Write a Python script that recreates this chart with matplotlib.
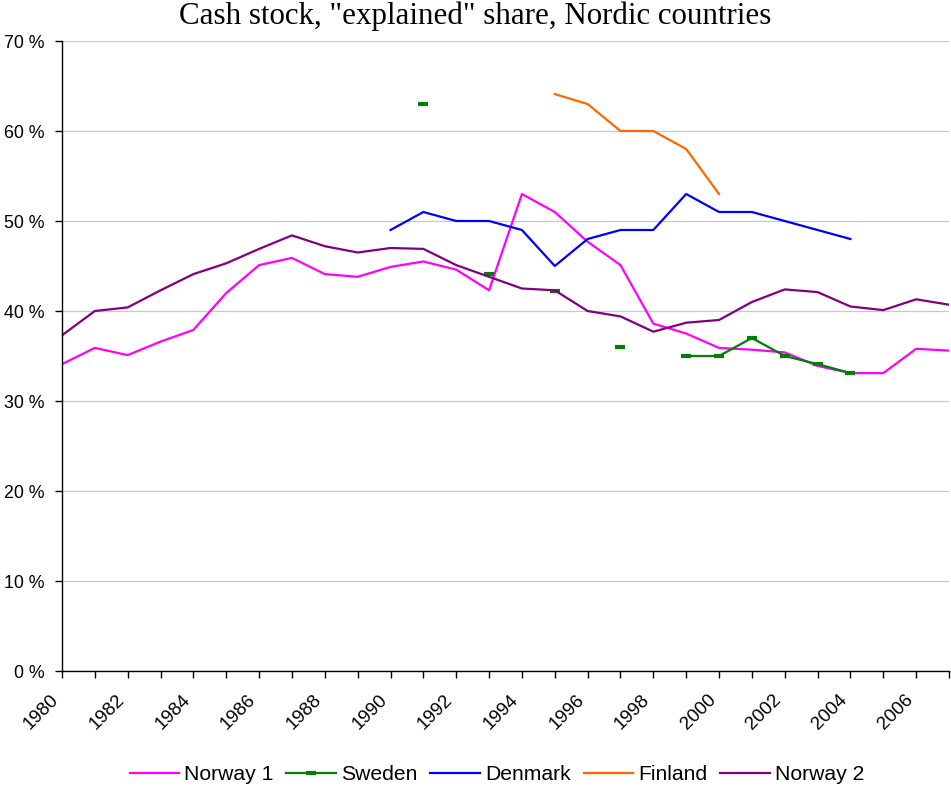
import numpy as np
import matplotlib
matplotlib.use("Agg")
import matplotlib.pyplot as plt
from matplotlib.ticker import FixedLocator, FuncFormatter
import matplotlib.transforms as mtransforms

years = list(range(1980, 2008))
nan = np.nan

norway1 = [34.1, 35.9, 35.1, 36.6, 37.9, 42.0, 45.1, 45.9, 44.1, 43.8,
           44.9, 45.5, 44.6, 42.3, 53.0, 51.0, 47.7, 45.1, 38.6, 37.5,
           35.9, 35.7, 35.4, 33.9, 33.1, 33.1, 35.8, 35.6]
sweden = [nan] * 11 + [63.0, nan, 44.1, nan, 42.2, nan, 36.0, nan,
                       35.0, 35.0, 37.0, 35.0, 34.1, 33.1, nan, nan, nan]
denmark = [nan] * 10 + [49.0, 51.0, 50.0, 50.0, 49.0, 45.0, 48.0, 49.0, 49.0, 53.0,
                        51.0, 51.0, 50.0, 49.0, 48.0, nan, nan, nan]
finland = [nan] * 15 + [64.1, 63.0, 60.0, 60.0, 58.0, 53.0] + [nan] * 7
norway2 = [37.3, 40.0, 40.4, 42.3, 44.1, 45.3, 46.9, 48.4, 47.2, 46.5,
           47.0, 46.9, 45.1, 43.8, 42.5, 42.3, 40.0, 39.4, 37.7, 38.7,
           39.0, 41.0, 42.4, 42.1, 40.5, 40.1, 41.3, 40.7]

yticks = [0, 10, 20, 30, 40, 50, 60, 70]
xlabels = list(range(1980, 2007, 2))

plt.rcParams['font.family'] = ['Liberation Sans', 'DejaVu Sans']

fig = plt.figure(figsize=(9.51, 7.89), dpi=100)
ax = fig.add_axes([62 / 951, 118 / 789, 887 / 951, 630 / 789])

ax.plot(years, norway1, color='#FF00FF', lw=1.6, label='Norway 1')
ax.plot(years, sweden, color='#008000', lw=1.6, marker='_', ms=7, mew=3, label='Sweden')
ax.plot(years, denmark, color='#0000FF', lw=1.6, label='Denmark')
ax.plot(years, finland, color='#FF6600', lw=1.6, label='Finland')
ax.plot(years, norway2, color='#800080', lw=1.6, label='Norway 2')

ax.set_xlim(1980, 2007)
ax.set_ylim(0, 70)
ax.yaxis.set_major_locator(FixedLocator(yticks))
ax.yaxis.set_major_formatter(FuncFormatter(lambda v, p: '%d %%' % v))
ax.grid(axis='y', color='#c8c8c8', lw=0.9)
ax.set_axisbelow(True)

ax.set_xticks(years)
ax.set_xticklabels([str(y) if y in xlabels else '' for y in years],
                   rotation=45, ha='right', va='top')
# excel puts the end of each rotated label a bit left of its tick
offset = mtransforms.ScaledTranslation(-14 / 100, 0, fig.dpi_scale_trans)
for lab in ax.get_xticklabels():
    lab.set_transform(lab.get_transform() + offset)

ax.tick_params(axis='x', direction='out', length=5, width=1, pad=9.5, labelsize=13.5)
ax.tick_params(axis='y', direction='out', length=5, width=1, pad=7.5, labelsize=12.8)

for side in ('top', 'right'):
    ax.spines[side].set_visible(False)
for side in ('left', 'bottom'):
    ax.spines[side].set_color('black')
    ax.spines[side].set_linewidth(1)

fig.text(0.5, 1 - 24 / 789, 'Cash stock, "explained" share, Nordic countries',
         ha='center', va='baseline', fontsize=22.3, family=['Liberation Serif', 'DejaVu Serif'])

fig.legend(loc='center', bbox_to_anchor=(497 / 951, 1 - 775 / 789), ncol=5,
           frameon=False, fontsize=15.2, handlelength=2.35, handletextpad=0.25,
           columnspacing=0.6)

fig.savefig('out.png', dpi=100)
